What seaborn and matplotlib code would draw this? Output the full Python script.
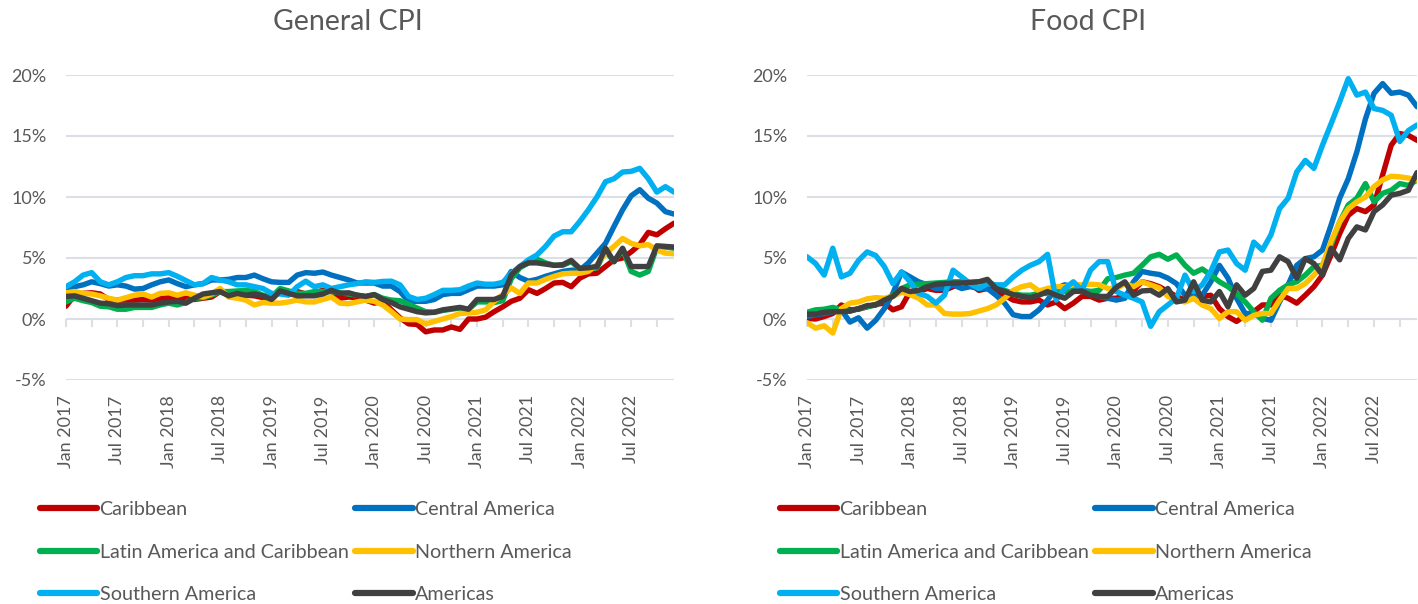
import numpy as np
import pandas as pd
import seaborn as sns
import matplotlib.pyplot as plt
from matplotlib.lines import Line2D

# --- data (year-on-year change, %, monthly Jan 2017 .. Dec 2022) ---
regions = ["Caribbean", "Central America", "Latin America and Caribbean",
           "Northern America", "Southern America", "Americas"]
colors = ["#C00000", "#0070C0", "#00B050", "#FFC000", "#00B0F0", "#404040"]
months = pd.date_range("2017-01-01", "2022-12-01", freq="MS")

general_caribbean = [
    1.05, 1.95, 2.1, 2.15, 2.05, 1.6, 1.55, 1.55, 1.55, 1.6, 1.55, 1.7,
    1.75, 1.65, 1.7, 1.6, 1.7, 1.8, 2.25, 1.95, 2.1, 1.95, 1.9, 1.75,
    1.6, 2.3, 2.15, 2.25, 2.05, 2.15, 2.35, 2.25, 1.7, 1.8, 1.75, 1.55,
    1.3, 1.45, 0.75, 0.1, -0.4, -0.45, -1.05, -0.9, -0.9, -0.65, -0.85, 0.0,
    0.0, 0.15, 0.6, 1.0, 1.45, 1.7, 2.4, 2.1, 2.5, 2.95, 3.0, 2.65,
    3.35, 3.7, 3.75, 4.3, 4.85, 5.0, 5.5, 6.1, 7.1, 6.9, 7.4, 7.85]
general_central = [
    2.35, 2.65, 2.8, 3.05, 2.9, 2.7, 2.8, 2.7, 2.45, 2.5, 2.8, 3.05,
    3.2, 2.9, 2.65, 2.8, 2.9, 3.2, 3.2, 3.25, 3.4, 3.4, 3.6, 3.3,
    3.05, 3.0, 3.0, 3.6, 3.8, 3.75, 3.85, 3.6, 3.4, 3.2, 2.95, 2.95,
    2.95, 2.7, 2.7, 2.25, 1.45, 1.45, 1.45, 1.6, 2.0, 2.1, 2.1, 2.4,
    2.7, 2.7, 2.7, 2.8, 3.9, 3.4, 3.1, 3.25, 3.5, 3.7, 3.9, 4.0,
    4.0, 4.6, 5.4, 6.2, 7.6, 8.95, 10.1, 10.6, 9.9, 9.5, 8.8, 8.6]
general_latam = [
    1.4, 1.7, 1.5, 1.35, 1.05, 1.0, 0.8, 0.8, 0.95, 0.95, 0.95, 1.15,
    1.3, 1.15, 1.35, 1.7, 1.75, 1.95, 2.25, 2.25, 2.3, 2.35, 2.25, 1.95,
    1.8, 2.5, 2.3, 2.1, 2.1, 2.25, 2.25, 2.25, 2.15, 2.05, 1.95, 1.85,
    2.0, 1.7, 1.55, 1.5, 1.2, 0.9, 0.6, 0.55, 0.7, 0.8, 0.9, 0.8,
    1.4, 1.4, 1.35, 1.5, 3.3, 4.2, 4.6, 4.9, 4.6, 4.4, 4.4, 4.7,
    4.1, 4.1, 4.2, 5.6, 4.7, 5.7, 3.9, 3.6, 3.9, 5.9, 5.9, 5.8]
general_northern = [
    2.15, 2.25, 2.1, 2.05, 1.9, 1.7, 1.55, 1.75, 1.95, 2.05, 1.8, 2.1,
    2.15, 1.95, 2.15, 1.95, 1.8, 2.05, 2.5, 1.8, 1.7, 1.55, 1.15, 1.35,
    1.3, 1.3, 1.4, 1.55, 1.4, 1.4, 1.6, 1.8, 1.3, 1.25, 1.4, 1.55,
    1.45, 1.15, 0.6, 0.0, -0.05, -0.05, -0.4, -0.2, 0.0, 0.2, 0.45, 0.5,
    0.55, 0.75, 1.45, 2.0, 2.55, 2.1, 2.95, 2.95, 3.25, 3.5, 3.7, 3.75,
    3.75, 3.9, 4.45, 5.4, 5.95, 6.6, 6.2, 6.0, 6.1, 5.65, 5.4, 5.35]
general_southern = [
    2.65, 3.05, 3.6, 3.8, 3.05, 2.8, 3.05, 3.4, 3.55, 3.55, 3.7, 3.7,
    3.8, 3.5, 3.15, 2.8, 2.9, 3.4, 3.2, 3.05, 2.8, 2.8, 2.65, 2.5,
    2.1, 2.05, 1.95, 2.65, 3.1, 2.65, 2.8, 2.5, 2.65, 2.8, 2.9, 3.05,
    3.0, 3.08, 3.1, 2.8, 1.85, 1.6, 1.7, 2.0, 2.35, 2.35, 2.4, 2.7,
    2.95, 2.85, 2.85, 3.0, 3.75, 4.3, 4.85, 5.25, 5.95, 6.8, 7.15, 7.15,
    8.0, 8.95, 10.0, 11.25, 11.5, 12.05, 12.1, 12.35, 11.5, 10.4, 10.85, 10.4]
general_americas = [
    1.85, 1.9, 1.7, 1.5, 1.3, 1.25, 1.1, 1.15, 1.15, 1.15, 1.15, 1.3,
    1.4, 1.45, 1.3, 1.7, 2.05, 2.15, 2.25, 1.9, 2.1, 1.95, 2.05, 1.9,
    1.6, 2.3, 2.1, 1.9, 1.9, 1.9, 2.05, 2.35, 2.1, 2.15, 1.95, 1.85,
    2.0, 1.6, 1.35, 1.0, 0.8, 0.6, 0.5, 0.55, 0.75, 0.85, 0.95, 0.8,
    1.6, 1.6, 1.6, 1.85, 3.6, 4.3, 4.6, 4.6, 4.5, 4.4, 4.45, 4.8,
    4.15, 4.2, 4.3, 5.8, 4.7, 5.8, 4.3, 4.3, 4.3, 6.0, 5.95, 5.9]

food_caribbean = [
    0.05, 0.0, 0.2, 0.45, 1.15, 0.75, 0.8, 1.0, 1.2, 1.3, 0.75, 1.0,
    2.25, 2.25, 2.5, 2.35, 2.35, 2.65, 3.05, 2.9, 2.35, 2.5, 2.35, 1.95,
    1.55, 1.4, 1.4, 1.55, 1.15, 1.4, 0.85, 1.3, 1.85, 1.85, 1.55, 1.7,
    1.7, 1.95, 2.35, 3.05, 2.9, 2.65, 2.25, 1.85, 1.55, 1.7, 1.85, 1.95,
    0.85, 0.2, -0.2, 0.3, 0.6, 1.15, 1.15, 1.95, 1.7, 1.3, 1.95, 2.65,
    3.6, 5.25, 7.0, 8.5, 9.05, 8.8, 9.35, 11.8, 14.25, 15.2, 15.05, 14.65]
food_central = [
    0.2, 0.35, 0.45, 0.6, 0.75, -0.25, 0.1, -0.75, -0.1, 0.85, 2.1, 3.85,
    3.45, 3.05, 2.8, 2.5, 2.5, 2.8, 2.5, 2.65, 2.5, 2.5, 1.95, 1.3,
    0.35, 0.2, 0.2, 0.75, 1.55, 2.5, 2.8, 2.65, 2.35, 2.25, 1.85, 1.7,
    1.55, 1.7, 3.05, 3.9, 3.75, 3.65, 3.35, 2.9, 1.95, 1.95, 1.95, 3.05,
    4.4, 3.35, 1.7, 0.45, 0.45, 0.05, -0.1, 1.4, 2.8, 4.4, 4.95, 5.1,
    5.65, 7.7, 9.9, 11.5, 13.7, 16.4, 18.5, 19.3, 18.5, 18.6, 18.35, 17.4]
food_latam = [
    0.55, 0.75, 0.8, 0.95, 0.75, 0.65, 0.85, 1.0, 1.15, 1.55, 1.95, 2.5,
    2.8, 2.85, 2.9, 2.95, 3.0, 3.05, 3.05, 3.0, 3.05, 3.1, 2.65, 2.35,
    2.1, 1.95, 1.95, 2.1, 2.1, 2.1, 2.25, 2.3, 2.25, 2.25, 2.35, 3.3,
    3.4, 3.6, 3.75, 4.4, 5.1, 5.3, 4.9, 5.25, 4.4, 3.75, 4.1, 3.6,
    3.05, 2.65, 2.1, 1.4, 0.6, -0.1, 1.7, 2.35, 2.8, 3.05, 3.6, 4.3,
    4.4, 6.05, 7.95, 9.35, 9.9, 11.1, 9.6, 10.3, 10.55, 11.1, 10.95, 11.4]
food_northern = [
    -0.3, -0.75, -0.55, -1.15, 0.85, 1.3, 1.4, 1.65, 1.75, 1.7, 1.85, 2.2,
    2.0, 1.7, 1.15, 1.15, 0.45, 0.4, 0.4, 0.45, 0.65, 0.85, 1.15, 1.7,
    2.35, 2.65, 2.8, 2.3, 2.5, 2.65, 2.65, 2.8, 2.8, 2.85, 2.8, 2.5,
    2.5, 2.9, 2.65, 3.05, 2.8, 2.55, 1.85, 1.55, 1.4, 1.7, 1.15, 0.85,
    0.05, 0.6, 0.6, -0.1, 0.3, 0.45, 0.45, 1.55, 2.5, 2.5, 2.9, 3.6,
    4.4, 6.35, 7.95, 9.05, 9.6, 10.0, 10.85, 11.4, 11.7, 11.65, 11.55, 11.4]
food_southern = [
    5.1, 4.55, 3.6, 5.8, 3.45, 3.75, 4.8, 5.5, 5.2, 4.3, 2.9, 3.85,
    3.05, 2.1, 1.85, 1.3, 1.95, 4.0, 3.45, 2.9, 2.5, 2.9, 2.8, 2.8,
    3.45, 4.0, 4.4, 4.7, 5.3, 1.55, 2.5, 3.05, 2.35, 4.0, 4.7, 4.7,
    2.25, 1.95, 1.7, 1.4, -0.6, 0.6, 1.15, 1.7, 3.6, 2.25, 2.8, 3.9,
    5.5, 5.65, 4.55, 4.0, 6.3, 5.65, 6.9, 9.05, 9.9, 12.05, 13.0, 12.35,
    14.25, 16.0, 17.8, 19.7, 18.35, 18.6, 17.25, 17.1, 16.7, 14.55, 15.45, 15.9]
food_americas = [
    0.4, 0.4, 0.55, 0.6, 0.6, 0.65, 0.85, 1.1, 1.15, 1.55, 1.85, 2.5,
    2.25, 2.35, 2.65, 2.85, 2.9, 2.95, 2.95, 3.0, 3.05, 3.25, 2.5, 2.25,
    2.0, 1.85, 1.75, 1.95, 2.25, 1.95, 1.7, 2.25, 2.3, 1.95, 1.85, 1.85,
    2.6, 3.05, 1.95, 2.3, 2.35, 1.95, 2.5, 1.4, 1.55, 3.05, 1.55, 1.4,
    2.25, 1.0, 2.8, 1.95, 2.5, 3.9, 4.0, 5.1, 4.7, 3.35, 4.95, 4.55,
    3.6, 5.8, 4.85, 6.6, 7.55, 7.3, 8.8, 9.35, 10.15, 10.3, 10.55, 12.0]

general = [general_caribbean, general_central, general_latam,
           general_northern, general_southern, general_americas]
food = [food_caribbean, food_central, food_latam,
        food_northern, food_southern, food_americas]

y_ticks = [-5, 0, 5, 10, 15, 20]
label_months = list(range(0, 72, 6))
x_labels = [months[i].strftime("%b %Y") for i in label_months]


def to_long(series_list):
    frames = []
    for name, vals in zip(regions, series_list):
        frames.append(pd.DataFrame({"month": np.arange(len(months)),
                                    "value": vals, "region": name}))
    return pd.concat(frames, ignore_index=True)


sns.set_theme(style="white")
plt.rcParams["font.family"] = ["Lato", "DejaVu Sans"]

TXT = "#595959"
GRID = "#DCDFE6"
palette = dict(zip(regions, colors))

fig = plt.figure(figsize=(14.18, 6.04), dpi=100)
ax_left = fig.add_axes([66 / 1418, 1 - 380 / 604, 608 / 1418, 305 / 604])
ax_right = fig.add_axes([807 / 1418, 1 - 380 / 604, 610 / 1418, 305 / 604])


def style_panel(ax, data, title, title_x):
    sns.lineplot(data=to_long(data), x="month", y="value", hue="region",
                 hue_order=regions, palette=palette, linewidth=3.9,
                 legend=False, ax=ax, sort=False)
    for ln in ax.get_lines():
        ln.set_solid_joinstyle("round")
        ln.set_solid_capstyle("round")

    ax.set_xlim(0, len(months) - 1)
    ax.set_ylim(-5, 20)
    ax.set_yticks(y_ticks)
    ax.set_yticklabels([f"{t}%" for t in y_ticks], fontsize=13, color=TXT)
    ax.tick_params(axis="y", length=0, pad=14)
    ax.yaxis.grid(True, color=GRID, linewidth=1.5)
    ax.set_axisbelow(True)
    for s in ax.spines.values():
        s.set_visible(False)

    ax.set_xticks(label_months)
    ax.set_xticklabels(x_labels, rotation=90, fontsize=13, color=TXT)
    ax.tick_params(axis="x", length=0, pad=11)
    ax.set_xlabel("")
    ax.set_ylabel("")

    # quarterly tick marks sitting on the 0% line
    sec = ax.secondary_xaxis(0.2)
    sec.set_xticks(list(range(0, 72, 3)))
    sec.set_xticklabels([])
    sec.tick_params(axis="x", direction="out", length=6, width=1.5, color=GRID)
    sec.spines["bottom"].set_visible(False)

    fig.text(title_x, 1 - 22 / 604, title, ha="center", va="center",
             fontsize=20.5, color=TXT)


style_panel(ax_left, general, "General CPI", 348 / 1418)
style_panel(ax_right, food, "Food CPI", 1088 / 1418)

# legends: Excel fills row by row, matplotlib column by column
order = [0, 2, 4, 1, 3, 5]
handles = [Line2D([0], [0], color=colors[i], linewidth=4.5,
                  solid_capstyle="round") for i in order]
labels = [regions[i] for i in order]
for x0 in (40 / 1418, 780 / 1418):
    fig.legend(handles, labels, loc="upper left",
               bbox_to_anchor=(x0, 1 - 501 / 604), ncols=2, frameon=False,
               fontsize=14.2, labelcolor=TXT, handlelength=2.9,
               handletextpad=0.12, columnspacing=0.35, labelspacing=1.3,
               borderpad=0, borderaxespad=0)

fig.savefig("out.png", dpi=100)
